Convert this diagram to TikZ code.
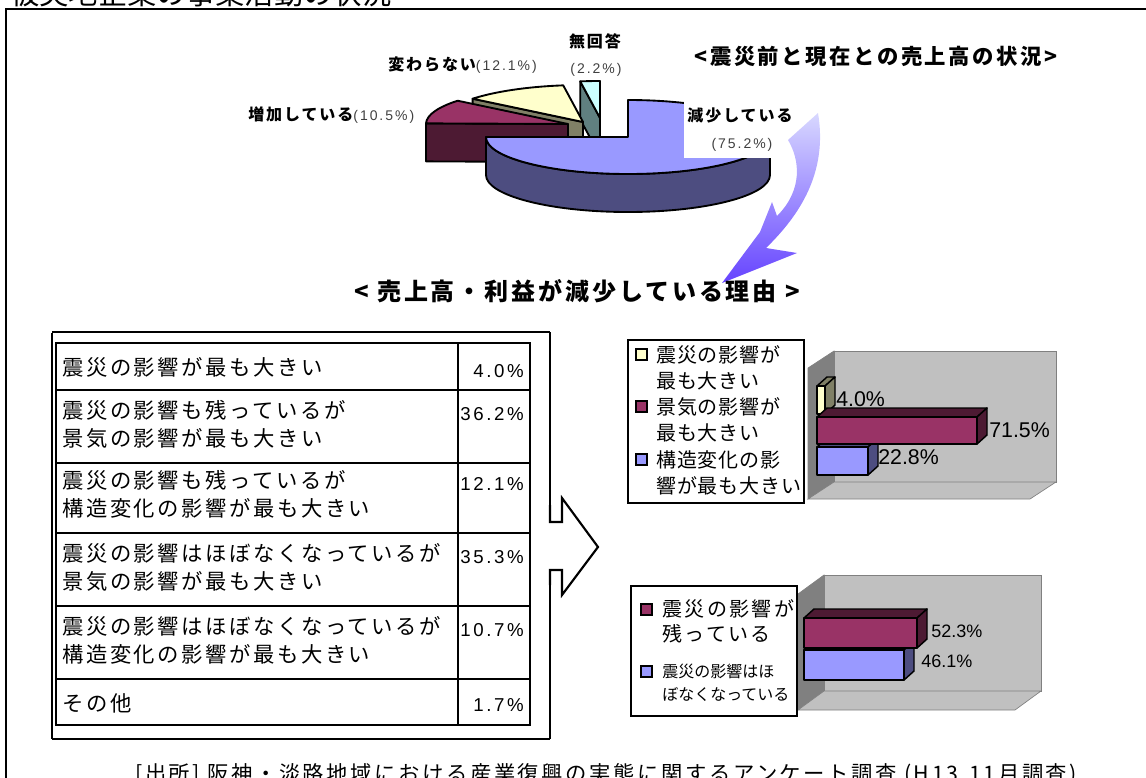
\documentclass[tikz,border=0pt]{standalone}
\usepackage{fontspec}
\setmainfont{Liberation Sans}
\newfontfamily\jp{Noto Sans CJK JP}
\newfontfamily\jpsp[LetterSpace=12]{Noto Sans CJK JP}
\newfontfamily\jpnar[LetterSpace=4]{Noto Sans CJK JP}
\newfontfamily\jptab[LetterSpace=12]{Noto Sans CJK JP}
\newfontfamily\numf[LetterSpace=14]{Liberation Sans}
\usepackage{tikz}

\definecolor{pyel}{HTML}{FFFFCC}
\definecolor{pyeld}{HTML}{808066}
\definecolor{pmar}{HTML}{993366}
\definecolor{pmard}{HTML}{4D1A33}
\definecolor{pblu}{HTML}{9999FF}
\definecolor{pblud}{HTML}{4D4D80}
\definecolor{pcya}{HTML}{CCFFFF}
\definecolor{pcyad}{HTML}{608080}
\definecolor{wallback}{HTML}{C0C0C0}
\definecolor{wallside}{HTML}{808080}
\definecolor{arrtop}{HTML}{D8D8FF}
\definecolor{arrbot}{HTML}{6644FF}

\newcommand{\pielab}[1]{{\jpsp\bfseries\fontsize{12pt}{13pt}\selectfont #1}}
\newcommand{\pienum}[1]{{\numf\fontsize{10.5pt}{12pt}\selectfont\color{black!75}#1}}
% 3d bar: x, top y, length, height, front colour, dark colour
\newcommand{\cbar}[6]{%
  \filldraw[bar, fill=#6] (#1,#2) -- ++(10,-9) -- ++(#3,0) -- ++(-10,9) -- cycle;
  \filldraw[bar, fill=#6] ({#1+#3},#2) -- ++(10,-9) -- ++(0,#4) -- ++(-10,9) -- cycle;
  \filldraw[bar, fill=#5] (#1,#2) rectangle ++(#3,#4);}

\tikzset{
  every node/.style={inner sep=0pt},
  pie/.style={draw=black, line width=1.4pt, line join=round},
  bar/.style={draw=black, line width=1.1pt, line join=round},
  frame/.style={line width=2.2pt},
  wall/.style={draw=gray, line width=0.5pt},
  lgdsq/.style={draw=black, line width=1.1pt},
  cell/.style={anchor=base west, font=\jptab\fontsize{16pt}{18pt}\selectfont},
  pct/.style={anchor=base east, font=\numf\fontsize{14pt}{16pt}\selectfont},
  lgd/.style={anchor=base west, font=\jpnar\fontsize{15pt}{17pt}\selectfont},
  val/.style={anchor=base west, font=\rmfamily\fontsize{16pt}{18pt}\selectfont},
}

\begin{document}
\begin{tikzpicture}[x=0.75pt,y=-0.75pt]
\useasboundingbox (0,0) rectangle (1146,778);
\clip (0,0) rectangle (1146,778);

% heading and page frame
\node[anchor=base west, font=\jp\fontsize{22pt}{24pt}\selectfont] (head) at (10,4) {被災地企業の事業活動の状況};
\draw[frame] (6,778) -- (6,9) -- (1146,9);

% pie chart
\filldraw[pie, fill=pcyad] (600,118) -- (580.2,81.4) -- (580.2,119.4) -- (600,156) -- cycle;
\filldraw[pie, fill=pcya] (600,118) -- +(-90:142 and 37) arc[start angle=-90, end angle=-98, x radius=142, y radius=37] -- cycle;
\filldraw[pie, fill=pyeld] (583,122) -- (472.6,98.7) -- (472.6,136.7) -- (583,160) -- cycle;
\filldraw[pie, fill=pyel] (583,122) -- +(-98:142 and 37) arc[start angle=-98, end angle=-141, x radius=142, y radius=37] -- cycle;
\filldraw[pie, fill=pmard] (568,124) -- (426,123.4) -- (426,161.4) -- (568,162) -- cycle;
\filldraw[pie, fill=pmar] (568,124) -- +(-141:142 and 37) arc[start angle=-141, end angle=-179, x radius=142, y radius=37] -- cycle;
\filldraw[pie, fill=pblud] (486,137) arc[start angle=180, end angle=0, x radius=142, y radius=37] -- ++(0,38) arc[start angle=0, end angle=180, x radius=142, y radius=37] -- cycle;
\filldraw[pie, fill=pblu] (628,137) -- (628,100) arc[start angle=-90, end angle=180, x radius=142, y radius=37] -- cycle;
\fill[white] (684,94) rectangle (774,158);

\node[anchor=base] (nores) at (595,47) {\pielab{無回答}};
\node[anchor=base] (noresp) at (596,73) {\pienum{(2.2\%)}};
\node[anchor=base west] (same) at (388,70) {\pielab{変わらない}\pienum{(12.1\%)}};
\node[anchor=base west] (incr) at (248,120) {\pielab{増加している}\pienum{(10.5\%)}};
\node[anchor=base] (decr) at (740,121) {\pielab{減少している}};
\node[anchor=base] (decrp) at (742,148) {\pienum{(75.2\%)}};
\node[anchor=base, font=\jpsp\bfseries\fontsize{16pt}{18pt}\selectfont] (sales) at (876,64) {<震災前と現在との売上高の状況>};

% curved arrow
\shade[top color=arrtop, bottom color=arrbot] (818,113) -- (788,140)
  .. controls (800,160) and (803,190) .. (777,216) -- (772,202) -- (760,232)
  -- (722,283) -- (797,253) -- (766,248)
  .. controls (800,215) and (828,172) .. (818,113) -- cycle;

\node[anchor=base, font=\jpsp\bfseries\fontsize{18pt}{20pt}\selectfont] (why) at (577,300) {< 売上高・利益が減少している理由 >};

% table with frame
\draw[frame] (52,333) -- (52,739);
\draw[frame] (52,332) -- (550,332);
\draw[frame] (52,739) -- (550,739);
\draw[frame] (550,332) -- (550,505);
\draw[frame] (550,585) -- (550,739);
\draw[line width=1.6pt] (550,505) -- (550,522) -- (562,522) -- (562,498) -- (598,547) -- (562,595) -- (562,570) -- (550,570) -- (550,585);

\draw[line width=1.3pt] (56,343) rectangle (530,725);
\foreach \y in {390,463,533,606,679}
  \draw[line width=1.3pt] (56,\y) -- (530,\y);
\draw[line width=1.3pt] (458,343) -- (458,725);

\node[cell] (r1) at (62,375) {震災の影響が最も大きい};
\node[cell] (r2a) at (62,418) {震災の影響も残っているが};
\node[cell] (r2b) at (62,446) {景気の影響が最も大きい};
\node[cell] (r3a) at (62,488) {震災の影響も残っているが};
\node[cell] (r3b) at (62,516) {構造変化の影響が最も大きい};
\node[cell] (r4a) at (62,561) {震災の影響はほぼなくなっているが};
\node[cell] (r4b) at (62,589) {景気の影響が最も大きい};
\node[cell] (r5a) at (62,634) {震災の影響はほぼなくなっているが};
\node[cell] (r5b) at (62,662) {構造変化の影響が最も大きい};
\node[cell] (r6) at (62,711) {その他};

\node[pct] (p1) at (524,377) {4.0\%};
\node[pct] (p2) at (524,420) {36.2\%};
\node[pct] (p3) at (524,490) {12.1\%};
\node[pct] (p4) at (524,563) {35.3\%};
\node[pct] (p5) at (524,636) {10.7\%};
\node[pct] (p6) at (524,711) {1.7\%};

% upper bar chart
\filldraw[wall, fill=wallside] (808,368) -- (834,351) -- (834,482) -- (808,499) -- cycle;
\filldraw[wall, fill=wallback] (834,351) rectangle (1056,482);
\filldraw[wall, fill=wallback] (808,499) -- (834,482) -- (1056,482) -- (1030,499) -- cycle;
\cbar{817}{447}{51}{28}{pblu}{pblud}
\cbar{817}{386}{8}{28}{pyel}{pyeld}
\cbar{817}{417}{160}{27}{pmar}{pmard}
\node[val] (v1) at (836,406) {4.0\%};
\node[val] (v2) at (989,437) {71.5\%};
\node[val] (v3) at (878,464) {22.8\%};

\draw[line width=0.8pt] (628,340) rectangle (804,503);
\filldraw[lgdsq, fill=pyel] (636,349) rectangle (647,360);
\filldraw[lgdsq, fill=pmar] (636,401) rectangle (647,412);
\filldraw[lgdsq, fill=pblu] (636,454) rectangle (647,465);
\foreach \yy/\txt [count=\i] in {362/震災の影響が, 388/最も大きい, 414/景気の影響が, 440/最も大きい, 467/構造変化の影, 493/響が最も大きい}
  \node[lgd] (la\i) at (656,\yy) {\txt};

% lower bar chart
\filldraw[wall, fill=wallside] (798,594) -- (824,575) -- (824,691) -- (798,710) -- cycle;
\filldraw[wall, fill=wallback] (824,575) rectangle (1041,691);
\filldraw[wall, fill=wallback] (798,710) -- (824,691) -- (1041,691) -- (1015,710) -- cycle;
\cbar{804}{650}{100}{30}{pblu}{pblud}
\cbar{804}{618}{113}{30}{pmar}{pmard}
\node[val, font=\rmfamily\fontsize{13.5pt}{15pt}\selectfont] (v4) at (931,637) {52.3\%};
\node[val, font=\rmfamily\fontsize{13.5pt}{15pt}\selectfont] (v5) at (921,667) {46.1\%};

\draw[line width=0.8pt] (631,586) rectangle (797,716);
\filldraw[lgdsq, fill=pmar] (641,604) rectangle (652,615);
\filldraw[lgdsq, fill=pblu] (641,666) rectangle (652,677);
\node[anchor=base west, font=\jpsp\fontsize{15pt}{17pt}\selectfont] (lb1) at (662,616) {震災の影響が};
\node[anchor=base west, font=\jpsp\fontsize{15pt}{17pt}\selectfont] (lb2) at (662,641) {残っている};
\node[anchor=base west, font=\jp\fontsize{12pt}{14pt}\selectfont] (lb3) at (662,677) {震災の影響はほ};
\node[anchor=base west, font=\jp\fontsize{12pt}{14pt}\selectfont] (lb4) at (662,700) {ぼなくなっている};

% source
\node[anchor=base west, font=\jpsp\fontsize{16pt}{18pt}\selectfont] (src) at (135,781) {[出所] 阪神・淡路地域における産業復興の実態に関するアンケート調査 (H13.11月調査)};
\end{tikzpicture}
\end{document}
